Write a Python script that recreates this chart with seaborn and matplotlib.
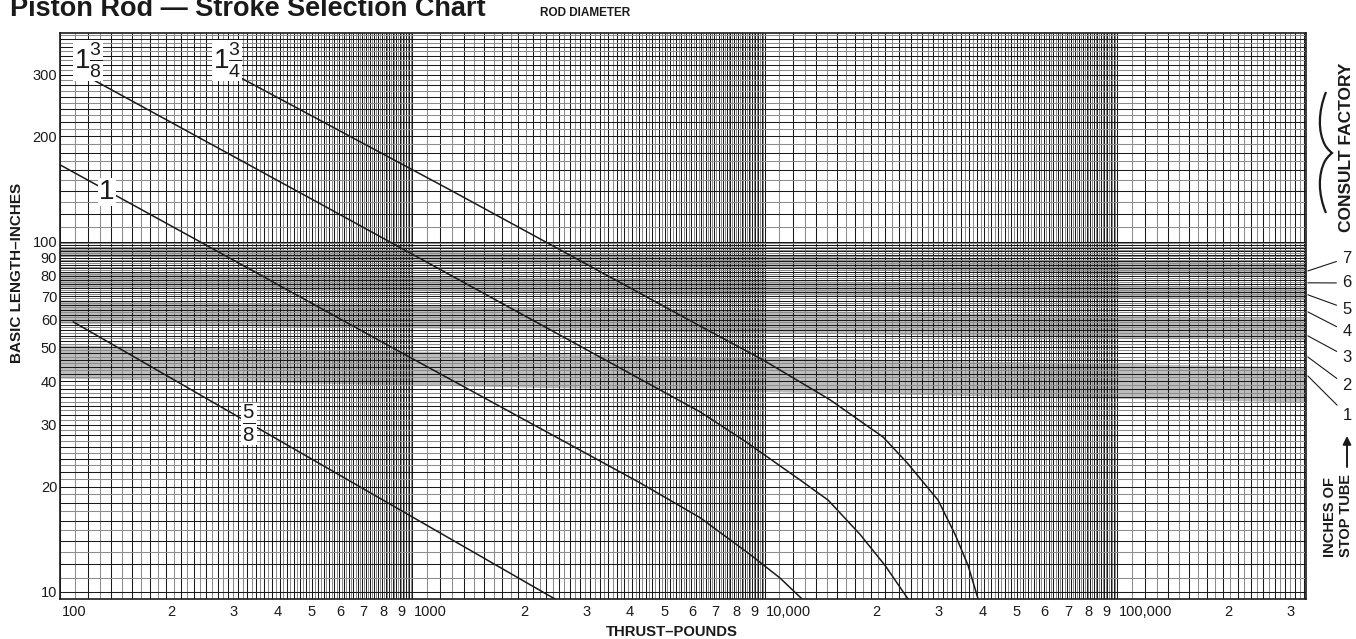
"""
Piston rod stroke selection chart (log-log nomograph) redrawn with seaborn.
Output: out.png (1356x639)
"""

import numpy as np
import pandas as pd
import matplotlib
matplotlib.use("Agg")
import matplotlib.pyplot as plt
import seaborn as sns
from matplotlib.path import Path
from matplotlib.patches import PathPatch
from matplotlib.ticker import NullLocator
from matplotlib.transforms import ScaledTranslation


W, H = 1356, 639

# rod diameter curves: thrust (lb) vs basic length (in)
rod_58_thrust = [109, 2540]
rod_58_length = [59.1, 9.55]

rod_1_thrust = [100, 250, 923, 4430, 6560, 9090, 11060, 12770]
rod_1_length = [166, 100, 48.5, 20.5, 16.3, 12.8, 10.96, 9.55]

rod_138_thrust = [118.5, 523, 6556, 8683, 12600, 15140, 18660, 21980, 25530]
rod_138_length = [298, 131.8, 32.7, 27.2, 20.9, 18.3, 14.6, 11.9, 9.55]

rod_134_thrust = [314, 1279, 6556, 9897, 15330, 21690, 25370, 31060,
                  34720, 37800, 40350]
rod_134_length = [300, 140.8, 57.5, 46.0, 35.4, 27.7, 23.4, 18.3,
                  14.6, 11.9, 9.55]

# shaded stop-tube zones (odd inches), edges at left / right of the chart
band_lo_left = [40.8, 58.6, 74.2, 91.2]
band_hi_left = [50.8, 68.3, 82.3, 97.0]
band_lo_right = [34.9, 52.5, 68.3, 79.4]
band_hi_right = [44.0, 60.7, 74.4, 87.1]

# stop tube inches and where their leaders touch the right edge
stop_tube = ["1", "2", "3", "4", "5", "6", "7"]
stop_tube_length = [41.4, 46.9, 53.9, 63.1, 70.6, 76.4, 82.6]

x_tick_vals = ([100 * k for k in range(1, 10)] + [1000 * k for k in range(1, 10)]
               + [10000 * k for k in range(1, 10)] + [100000, 200000, 300000])
x_tick_labels = (["100"] + [str(k) for k in range(2, 10)]
                 + ["1000"] + [str(k) for k in range(2, 10)]
                 + ["10,000"] + [str(k) for k in range(2, 10)]
                 + ["100,000", "2", "3"])
y_tick_vals = [10, 20, 30, 40, 50, 60, 70, 80, 90, 100, 200, 300]

XLIM = (100, 344000)
YLIM = (9.55, 395)

INK = "#1a1a1a"
GRID_GRAY = "#8c8c8c"
BAND = "#bdbdbd"


def fxy(x, y):
    """pixel position (top-left origin) -> figure fraction"""
    return x / W, 1 - y / H


def _style():
    sns.set_theme(style="white")
    plt.rcParams.update({
        "font.family": ["Liberation Sans", "DejaVu Sans"],
        "mathtext.fontset": "custom",
        "mathtext.rm": "Liberation Sans",
        "mathtext.it": "Liberation Sans:italic",
        "mathtext.bf": "Liberation Sans:bold",
        "mathtext.default": "regular",
        "text.color": INK,
    })


def grid_values(start, stop, step):
    vals = np.arange(start, stop, step)
    idx = np.round(vals / step).astype(int)
    cols = np.where(idx % 2 == 0, INK, GRID_GRAY)
    return vals, cols


def main():
    _style()
    fig = plt.figure(figsize=(W / 100, H / 100), dpi=100)
    ax = fig.add_axes([60 / W, 1 - 599 / H, 1246 / W, 566 / H])
    ax.set_xscale("log")
    ax.set_yscale("log")
    ax.set_xlim(*XLIM)
    ax.set_ylim(*YLIM)

    # shaded zones
    for lo_l, hi_l, lo_r, hi_r in zip(band_lo_left, band_hi_left,
                                      band_lo_right, band_hi_right):
        ax.fill_between(list(XLIM), [lo_l, lo_r], [hi_l, hi_r],
                        color=BAND, lw=0, zorder=0.5)

    # log graph paper
    xs, xc = zip(*[grid_values(*seg) for seg in
                   [(100, 1000, 10), (1000, 10000, 100),
                    (10000, 100000, 1000), (100000, 350001, 10000)]])
    ax.vlines(np.concatenate(xs), 0, 1, colors=np.concatenate(xc), lw=0.75,
              transform=ax.get_xaxis_transform(), zorder=1)
    ys, yc = zip(*[grid_values(*seg) for seg in [(10, 100, 1), (100, 410, 10)]])
    ax.hlines(np.concatenate(ys), 0, 1, colors=np.concatenate(yc), lw=0.75,
              transform=ax.get_yaxis_transform(), zorder=1)

    curves = pd.concat([
        pd.DataFrame({"thrust": t, "length": l, "rod": name})
        for name, t, l in [("5/8", rod_58_thrust, rod_58_length),
                           ("1", rod_1_thrust, rod_1_length),
                           ("1 3/8", rod_138_thrust, rod_138_length),
                           ("1 3/4", rod_134_thrust, rod_134_length)]
    ], ignore_index=True)
    sns.lineplot(data=curves, x="thrust", y="length", units="rod",
                 estimator=None, sort=False, color=INK, lw=1.1,
                 legend=False, ax=ax, zorder=3)
    ax.set_xlim(*XLIM)
    ax.set_ylim(*YLIM)

    box = dict(facecolor="white", edgecolor="none", pad=0.6)
    ax.text(120.1, 329, r"$1\frac{3}{8}$", fontsize=20, ha="center",
            va="center", bbox=box, zorder=5)
    ax.text(297.8, 329, r"$1\frac{3}{4}$", fontsize=20, ha="center",
            va="center", bbox=box, zorder=5)
    ax.text(135.9, 139, "1", fontsize=20, ha="center", va="center",
            bbox=box, zorder=5)
    ax.text(344, 30.2, r"$\frac{5}{8}$", fontsize=21, ha="center",
            va="center", bbox=box, zorder=5)

    # ticks
    ax.xaxis.set_minor_locator(NullLocator())
    ax.yaxis.set_minor_locator(NullLocator())
    ax.set_xticks(x_tick_vals)
    ax.set_xticklabels(x_tick_labels, ha="left")
    ax.set_yticks(y_tick_vals)
    ax.set_yticklabels([str(v) for v in y_tick_vals])
    ax.tick_params(axis="both", length=0, labelsize=10.5, colors=INK)
    ax.tick_params(axis="x", pad=4.5)
    ax.tick_params(axis="y", pad=2)
    shift = ScaledTranslation(1.2 / 72, 0, fig.dpi_scale_trans)
    for lbl in ax.get_xticklabels():
        lbl.set_transform(lbl.get_transform() + shift)
    ax.set_xlabel("")
    ax.set_ylabel("")
    for sp in ax.spines.values():
        sp.set_color(INK)
        sp.set_linewidth(1.2)
        sp.set_zorder(4)

    # texts around the chart
    fig.text(*fxy(10, 16), "Piston Rod \u2014 Stroke Selection Chart",
             fontsize=19.5, fontweight="bold", ha="left", va="baseline")
    fig.text(*fxy(585, 13), "ROD DIAMETER", fontsize=8.5, fontweight="bold",
             ha="center", va="center")
    fig.text(*fxy(17.5, 273), "BASIC LENGTH\u2013INCHES", rotation=90,
             fontsize=11, fontweight="bold", ha="center", va="center")
    fig.text(*fxy(672, 632), "THRUST\u2013POUNDS", fontsize=10.7,
             fontweight="bold", ha="center", va="center")
    fig.text(*fxy(1346.5, 147), "CONSULT FACTORY", rotation=90,
             fontsize=12.5, fontweight="bold", ha="center", va="center")
    fig.text(*fxy(1330, 557), "INCHES OF", rotation=90, fontsize=10.5,
             fontweight="bold", ha="center", va="bottom")
    fig.text(*fxy(1346.5, 557), "STOP TUBE", rotation=90, fontsize=10.5,
             fontweight="bold", ha="center", va="bottom")
    ax.annotate("", xy=fxy(1347, 436), xytext=fxy(1347, 467),
                xycoords="figure fraction", textcoords="figure fraction",
                arrowprops=dict(arrowstyle="-|>", lw=1.4, color=INK,
                                mutation_scale=12, shrinkA=0, shrinkB=0),
                annotation_clip=False)

    label_py = [415, 386, 357, 332, 309, 283, 258]
    for name, yv, py in zip(stop_tube, stop_tube_length, label_py):
        ax.annotate(name, xy=(1.0015, yv), xycoords=("axes fraction", "data"),
                    xytext=fxy(1347, py), textcoords="figure fraction",
                    ha="center", va="center", fontsize=12, color=INK,
                    arrowprops=dict(arrowstyle="-", lw=0.8, color=INK,
                                    shrinkA=2, shrinkB=0),
                    annotation_clip=False)

    # curly brace next to CONSULT FACTORY
    pts = [(1326, 92), (1318, 112), (1318, 132), (1325, 145),
           (1328, 150), (1331, 152), (1332, 153),
           (1331, 154), (1328, 156), (1325, 161),
           (1318, 174), (1318, 194), (1326, 213)]
    verts = [fxy(x, y) for x, y in pts]
    codes = [Path.MOVETO] + [Path.CURVE4] * 12
    fig.add_artist(PathPatch(Path(verts, codes), fc="none", ec=INK, lw=1.6,
                             transform=fig.transFigure))

    fig.savefig("out.png", dpi=100)
    plt.close(fig)


if __name__ == "__main__":
    main()
